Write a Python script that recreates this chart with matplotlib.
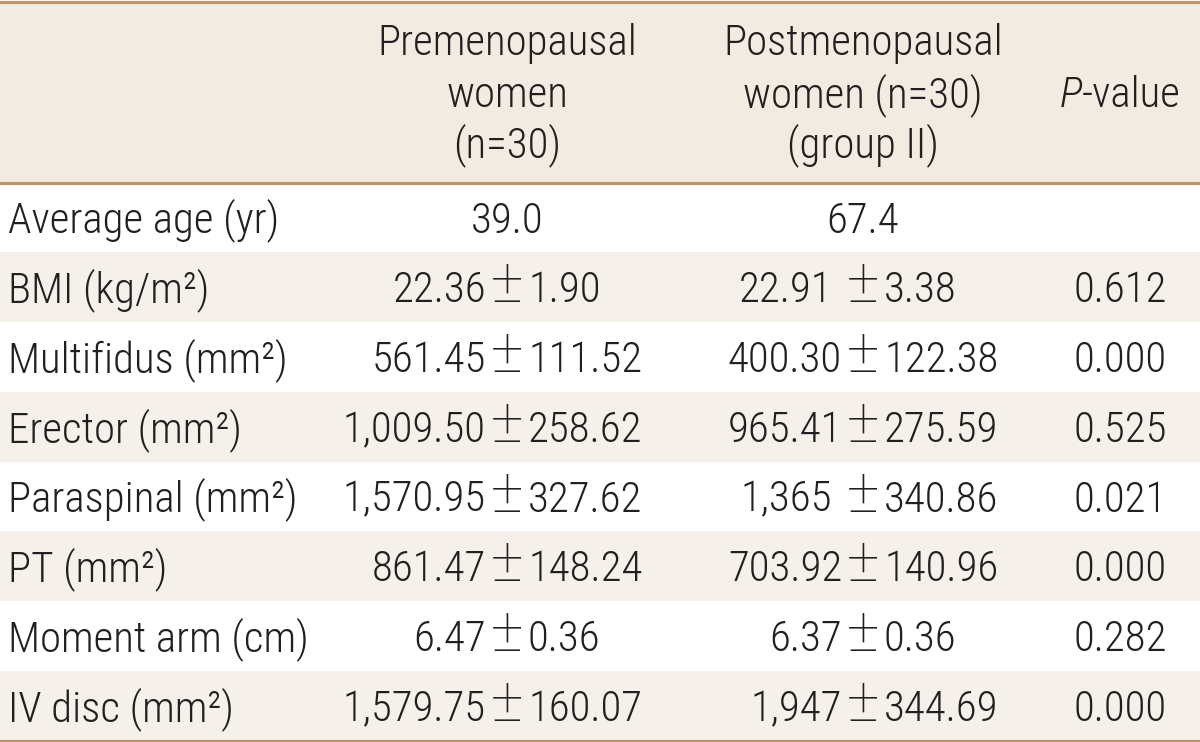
import matplotlib
matplotlib.use("Agg")
import matplotlib.pyplot as plt
from matplotlib import font_manager as fm
from matplotlib.textpath import TextPath
from matplotlib.patches import Rectangle

# ---------------- data ----------------
header_col1 = ["Premenopausal", "women", "(n=30)"]
header_col2 = ["Postmenopausal", "women (n=30)", "(group II)"]
header_p_italic = "P"
header_p_rest = "-value"

row_labels = ["Average age (yr)", "BMI (kg/m\u00b2)", "Multifidus (mm\u00b2)",
              "Erector (mm\u00b2)", "Paraspinal (mm\u00b2)", "PT (mm\u00b2)",
              "Moment arm (cm)", "IV disc (mm\u00b2)"]
premenopausal = ["39.0", "22.36\u00b11.90", "561.45\u00b1111.52", "1,009.50\u00b1258.62",
                 "1,570.95\u00b1327.62", "861.47\u00b1148.24", "6.47\u00b10.36",
                 "1,579.75\u00b1160.07"]
postmenopausal = ["67.4", "22.91 \u00b13.38", "400.30\u00b1122.38", "965.41\u00b1275.59",
                  "1,365 \u00b1340.86", "703.92\u00b1140.96", "6.37\u00b10.36",
                  "1,947\u00b1344.69"]
p_values = ["", "0.612", "0.000", "0.525", "0.021", "0.000", "0.282", "0.000"]

# ---------------- style ----------------
HEAD_BG = "#F2EBE1"
ROW_BG = "#F5F0EA"
LINE = "#BF9468"
TXT = "#231F20"

avail = {f.name for f in fm.fontManager.ttflist}
FAMILY = "DejaVu Sans"
for cand in ["Roboto Condensed", "Archivo Narrow", "PT Sans Narrow",
             "Liberation Sans Narrow", "Fira Sans Condensed", "IBM Plex Sans Condensed",
             "Pragati Narrow", "Asap Condensed", "Barlow Condensed"]:
    if cand in avail:
        FAMILY = cand
        break
PM_FAMILY = "Roboto" if "Roboto" in avail else FAMILY
WEIGHT = "light"

W, H = 1200, 742
fig = plt.figure(figsize=(W / 100, H / 100), dpi=100)
ax = fig.add_axes([0, 0, 1, 1])
ax.set_xlim(0, W)
ax.set_ylim(H, 0)
ax.axis("off")

fp = fm.FontProperties(family=FAMILY, weight=WEIGHT)
cap_ratio = TextPath((0, 0), "H", size=100, prop=fp).get_extents().height / 100
CAP_PX = 30.5
FS_PX = CAP_PX / cap_ratio
FS = FS_PX * 72 / 100

# plus-minus glyph drawn larger / wider than the digits (as in the reference typeface)
PM_SCALE = 1.45
PM_FS = FS * PM_SCALE
pm_fp = fm.FontProperties(family=PM_FAMILY, weight=WEIGHT)
pm_ext = TextPath((0, 0), "\u00b1", size=100, prop=pm_fp).get_extents()
PM_SHIFT = pm_ext.y0 / 100 * FS_PX * PM_SCALE  # keep bottom bar on the baseline

# geometry
top_y, head_bot, bot_y = 1.5, 182.5, 740.5
n = len(row_labels)
row_h = (bot_y - head_bot) / n

ax.add_patch(Rectangle((0, top_y), W, head_bot - top_y, facecolor=HEAD_BG, edgecolor="none", zorder=0))
for i in range(n):
    if i % 2 == 1:
        ax.add_patch(Rectangle((0, head_bot + i * row_h), W, row_h, facecolor=ROW_BG,
                               edgecolor="none", zorder=0))
for y in (top_y, head_bot, bot_y):
    ax.axhline(y, color=LINE, lw=2.3, zorder=2)

kw = dict(family=FAMILY, weight=WEIGHT, fontsize=FS, color=TXT, va="baseline")

fig.canvas.draw()
renderer = fig.canvas.get_renderer()


def width_px(s, style="normal"):
    t = ax.text(0, 0, s, fontstyle=style, **kw)
    w = t.get_window_extent(renderer).width
    t.remove()
    return w


space_w = width_px("0 0") - width_px("00")

# header
col1_x, col2_x, p_x = 507, 863, 1120
head_base = [55, 107, 157]
for s, y in zip(header_col1, head_base):
    ax.text(col1_x, y, s, ha="center", **kw)
for s, y in zip(header_col2, head_base):
    ax.text(col2_x, y, s, ha="center", **kw)
wp = width_px(header_p_italic, "italic")
wr = width_px(header_p_rest)
x0 = p_x - (wp + wr) / 2
ax.text(x0, head_base[1], header_p_italic, ha="left", fontstyle="italic", **kw)
ax.text(x0 + wp, head_base[1], header_p_rest, ha="left", **kw)


def draw_pm(xc, y, s):
    if "\u00b1" not in s:
        ax.text(xc, y, s, ha="center", **kw)
        return
    left, right = s.split("\u00b1")
    extra = space_w if left.endswith(" ") else 0
    ax.text(xc - 21 - extra, y, left.strip(), ha="right", **kw)
    pkw = dict(kw)
    pkw["fontsize"] = PM_FS
    pkw["family"] = PM_FAMILY
    ax.text(xc, y + PM_SHIFT, "\u00b1", ha="center", **pkw)
    ax.text(xc + 21, y, right.strip(), ha="left", **kw)


for i in range(n):
    yc = head_bot + (i + 0.5) * row_h
    yb = yc + CAP_PX / 2
    ax.text(8, yb, row_labels[i], ha="left", **kw)
    draw_pm(col1_x, yb, premenopausal[i])
    draw_pm(col2_x, yb, postmenopausal[i])
    if p_values[i]:
        ax.text(p_x, yb, p_values[i], ha="center", **kw)

fig.savefig("out.png", dpi=100)
